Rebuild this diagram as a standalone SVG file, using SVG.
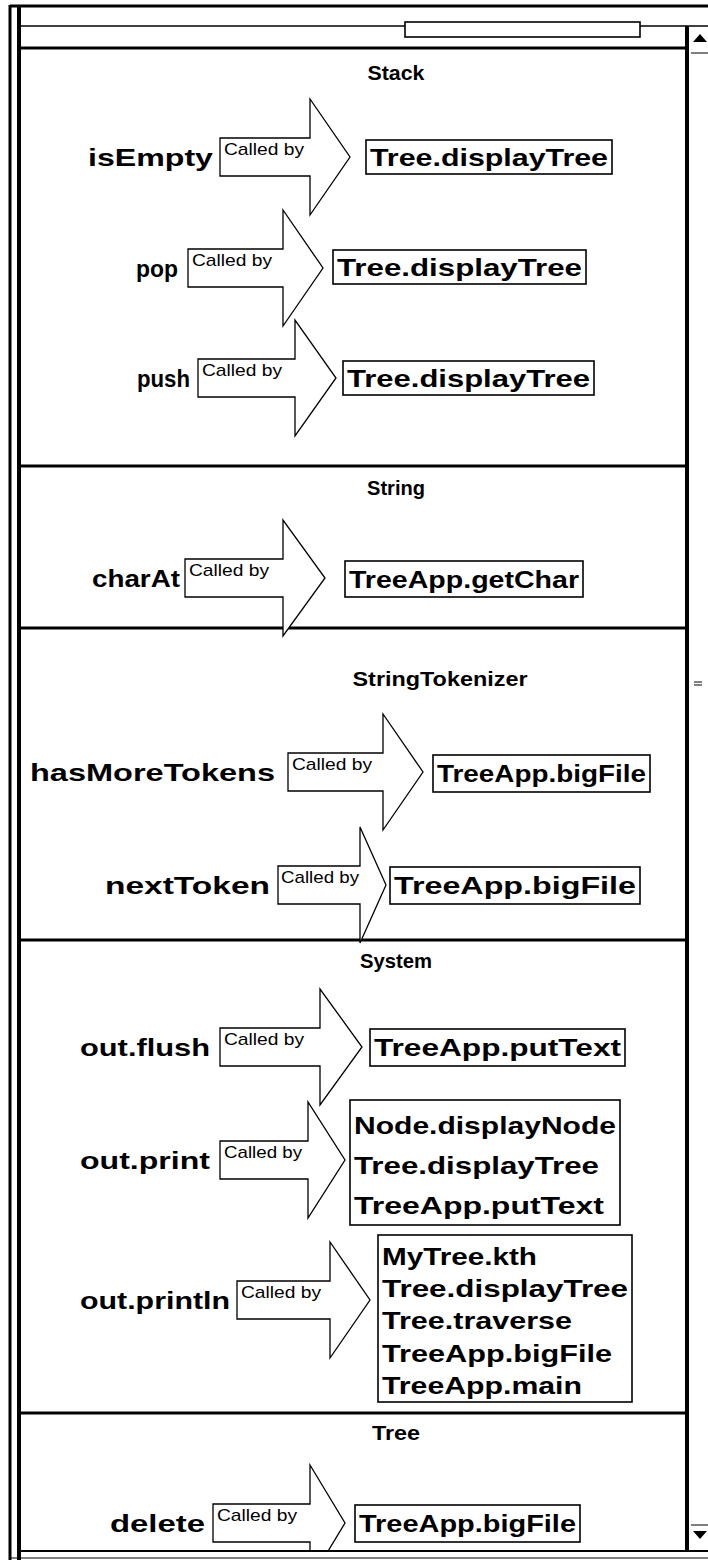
<svg xmlns="http://www.w3.org/2000/svg" width="708" height="1563" viewBox="0 0 708 1563">
<style>
.lbl{font-family:"Liberation Sans",Arial,sans-serif;font-weight:bold;font-size:24px;fill:#000}
.ttl{font-family:"Liberation Sans",Arial,sans-serif;font-weight:bold;font-size:21px;fill:#000;text-anchor:middle}
.cb{font-family:"Liberation Sans",Arial,sans-serif;font-size:17px;fill:#000}
.arrow{fill:#fff;stroke:#000;stroke-width:1.3}
.box{fill:#fff;stroke:#000;stroke-width:1.6}
.div{stroke:#000;stroke-width:3}
</style>
<defs>
<clipPath id="content"><rect x="20" y="27" width="666" height="1523"/></clipPath>
</defs>
<rect width="708" height="1563" fill="#fff"/>
<g id="frame">
<line x1="10" y1="6" x2="708" y2="6" stroke="#000" stroke-width="3"/>
<line x1="10" y1="5" x2="10" y2="1560" stroke="#000" stroke-width="3"/>
<line x1="19" y1="5" x2="19" y2="1560" stroke="#000" stroke-width="4"/>
<line x1="19" y1="26" x2="708" y2="26" stroke="#000" stroke-width="1.5"/>
<line x1="687" y1="26" x2="687" y2="1552" stroke="#000" stroke-width="4"/>
<line x1="19" y1="1551" x2="708" y2="1551" stroke="#000" stroke-width="2"/>
<line x1="10" y1="1558" x2="708" y2="1558" stroke="#000" stroke-width="1"/>
<rect x="405" y="22" width="235" height="15" class="box"/>
</g>
<g id="scrollbar">
<polygon points="693,42 700,34 707,42" fill="#000"/>
<line x1="691" y1="53" x2="708" y2="53" stroke="#000" stroke-width="1"/>
<line x1="691" y1="1525" x2="708" y2="1525" stroke="#000" stroke-width="1"/>
<polygon points="693,1531 707,1531 700,1539" fill="#000"/>
<line x1="694" y1="682" x2="702" y2="682" stroke="#000" stroke-width="1"/>
<line x1="694" y1="685" x2="702" y2="685" stroke="#000" stroke-width="1"/>
</g>
<g id="dividers">
<line class="div" x1="19" y1="48" x2="687" y2="48"/>
<line class="div" x1="19" y1="466" x2="687" y2="466"/>
<line class="div" x1="19" y1="628" x2="687" y2="628"/>
<line class="div" x1="19" y1="940" x2="687" y2="940"/>
<line class="div" x1="19" y1="1413" x2="687" y2="1413"/>
</g>
<g id="titles">
<text class="ttl" x="396" y="80" textLength="57" lengthAdjust="spacingAndGlyphs">Stack</text>
<text class="ttl" x="396" y="495" textLength="58" lengthAdjust="spacingAndGlyphs">String</text>
<text class="ttl" x="440" y="686" textLength="175" lengthAdjust="spacingAndGlyphs">StringTokenizer</text>
<text class="ttl" x="396" y="968" textLength="72" lengthAdjust="spacingAndGlyphs">System</text>
<text class="ttl" x="396" y="1440" textLength="48" lengthAdjust="spacingAndGlyphs">Tree</text>
</g>
<g id="connectors" clip-path="url(#content)">
<path class="arrow" d="M220,138 H310 V99 L350,157 L310,215 V176 H220 Z"/>
<path class="arrow" d="M188,249 H283 V210 L323,268 L283,326 V287 H188 Z"/>
<path class="arrow" d="M198,359 H295 V320 L336,378 L295,436 V397 H198 Z"/>
<path class="arrow" d="M185,559 H283 V520 L325,578 L283,636 V597 H185 Z"/>
<path class="arrow" d="M288,753 H383 V714 L423,772 L383,830 V791 H288 Z"/>
<path class="arrow" d="M278,866 H360 V827 L386,885 L360,943 V904 H278 Z"/>
<path class="arrow" d="M220,1028 H320 V989 L362,1047 L320,1105 V1066 H220 Z"/>
<path class="arrow" d="M220,1141 H308 V1102 L345,1160 L308,1218 V1179 H220 Z"/>
<path class="arrow" d="M237,1281 H330 V1242 L370,1300 L330,1358 V1319 H237 Z"/>
<path class="arrow" d="M213,1504 H310 V1465 L345,1523 L310,1581 V1542 H213 Z"/>
<text class="cb" x="224" y="155" textLength="80" lengthAdjust="spacingAndGlyphs">Called by</text>
<text class="cb" x="192" y="266" textLength="80" lengthAdjust="spacingAndGlyphs">Called by</text>
<text class="cb" x="202" y="376" textLength="80" lengthAdjust="spacingAndGlyphs">Called by</text>
<text class="cb" x="189" y="576" textLength="80" lengthAdjust="spacingAndGlyphs">Called by</text>
<text class="cb" x="292" y="770" textLength="80" lengthAdjust="spacingAndGlyphs">Called by</text>
<text class="cb" x="281" y="883" textLength="78" lengthAdjust="spacingAndGlyphs">Called by</text>
<text class="cb" x="224" y="1045" textLength="80" lengthAdjust="spacingAndGlyphs">Called by</text>
<text class="cb" x="224" y="1158" textLength="78" lengthAdjust="spacingAndGlyphs">Called by</text>
<text class="cb" x="241" y="1298" textLength="80" lengthAdjust="spacingAndGlyphs">Called by</text>
<text class="cb" x="217" y="1521" textLength="80" lengthAdjust="spacingAndGlyphs">Called by</text>
</g>
<g id="stack-isEmpty">
<text class="lbl" x="88" y="166" textLength="125" lengthAdjust="spacingAndGlyphs">isEmpty</text>
<rect class="box" x="366" y="140" width="246" height="34"/>
<text class="lbl" x="370" y="166" textLength="238" lengthAdjust="spacingAndGlyphs">Tree.displayTree</text>
</g>
<g id="stack-pop">
<text class="lbl" x="136" y="277" textLength="42" lengthAdjust="spacingAndGlyphs">pop</text>
<rect class="box" x="333" y="250" width="253" height="34"/>
<text class="lbl" x="337" y="276" textLength="245" lengthAdjust="spacingAndGlyphs">Tree.displayTree</text>
</g>
<g id="stack-push">
<text class="lbl" x="137" y="387" textLength="53" lengthAdjust="spacingAndGlyphs">push</text>
<rect class="box" x="343" y="361" width="251" height="34"/>
<text class="lbl" x="347" y="387" textLength="243" lengthAdjust="spacingAndGlyphs">Tree.displayTree</text>
</g>
<g id="string-charAt">
<text class="lbl" x="92" y="587" textLength="88" lengthAdjust="spacingAndGlyphs">charAt</text>
<rect class="box" x="345" y="561" width="238" height="36"/>
<text class="lbl" x="349" y="588" textLength="230" lengthAdjust="spacingAndGlyphs">TreeApp.getChar</text>
</g>
<g id="tokenizer-hasMoreTokens">
<text class="lbl" x="30" y="781" textLength="245" lengthAdjust="spacingAndGlyphs">hasMoreTokens</text>
<rect class="box" x="433" y="755" width="217" height="37"/>
<text class="lbl" x="437" y="782" textLength="209" lengthAdjust="spacingAndGlyphs">TreeApp.bigFile</text>
</g>
<g id="tokenizer-nextToken">
<text class="lbl" x="105" y="894" textLength="165" lengthAdjust="spacingAndGlyphs">nextToken</text>
<rect class="box" x="390" y="867" width="250" height="37"/>
<text class="lbl" x="394" y="894" textLength="242" lengthAdjust="spacingAndGlyphs">TreeApp.bigFile</text>
</g>
<g id="system-out-flush">
<text class="lbl" x="80" y="1056" textLength="130" lengthAdjust="spacingAndGlyphs">out.flush</text>
<rect class="box" x="370" y="1029" width="255" height="37"/>
<text class="lbl" x="374" y="1056" textLength="247" lengthAdjust="spacingAndGlyphs">TreeApp.putText</text>
</g>
<g id="system-out-print">
<text class="lbl" x="80" y="1169" textLength="130" lengthAdjust="spacingAndGlyphs">out.print</text>
<rect class="box" x="350" y="1100" width="270" height="125"/>
<text class="lbl" x="354" y="1134" textLength="262" lengthAdjust="spacingAndGlyphs">Node.displayNode</text>
<text class="lbl" x="354" y="1174" textLength="245" lengthAdjust="spacingAndGlyphs">Tree.displayTree</text>
<text class="lbl" x="354" y="1214" textLength="250" lengthAdjust="spacingAndGlyphs">TreeApp.putText</text>
</g>
<g id="system-out-println">
<text class="lbl" x="80" y="1309" textLength="150" lengthAdjust="spacingAndGlyphs">out.println</text>
<rect class="box" x="378" y="1235" width="254" height="167"/>
<text class="lbl" x="382" y="1265" textLength="155" lengthAdjust="spacingAndGlyphs">MyTree.kth</text>
<text class="lbl" x="382" y="1297" textLength="246" lengthAdjust="spacingAndGlyphs">Tree.displayTree</text>
<text class="lbl" x="382" y="1329" textLength="190" lengthAdjust="spacingAndGlyphs">Tree.traverse</text>
<text class="lbl" x="382" y="1362" textLength="230" lengthAdjust="spacingAndGlyphs">TreeApp.bigFile</text>
<text class="lbl" x="382" y="1394" textLength="200" lengthAdjust="spacingAndGlyphs">TreeApp.main</text>
</g>
<g id="tree-delete">
<text class="lbl" x="110" y="1532" textLength="95" lengthAdjust="spacingAndGlyphs">delete</text>
<rect class="box" x="355" y="1505" width="225" height="37"/>
<text class="lbl" x="359" y="1532" textLength="217" lengthAdjust="spacingAndGlyphs">TreeApp.bigFile</text>
</g>
</svg>
